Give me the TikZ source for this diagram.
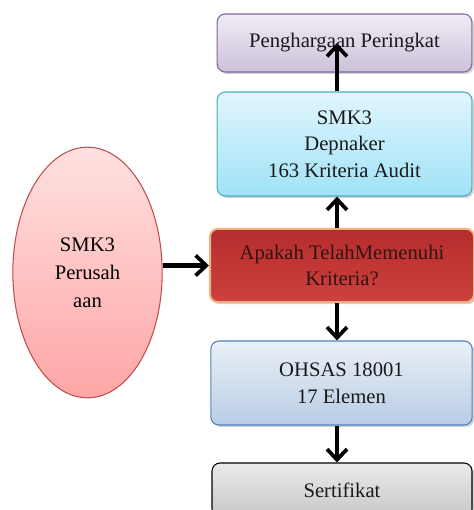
\documentclass[tikz,border=0pt]{standalone}
\usepackage{fontspec}
\setmainfont{Liberation Serif}
\usepackage{tikz}
\usetikzlibrary{arrows.meta,shapes.geometric,shadows,positioning}

\definecolor{ungu}{RGB}{128,100,162}
\definecolor{biru}{RGB}{75,172,198}
\definecolor{merah}{RGB}{192,80,77}
\definecolor{jingga}{RGB}{240,176,130}
\definecolor{birutua}{RGB}{79,129,189}
\definecolor{cyanmuda}{RGB}{225,246,253}
\definecolor{cyantua}{RGB}{160,226,247}
\definecolor{merahtua}{RGB}{180,45,45}
\definecolor{merahbawah}{RGB}{205,65,62}

\begin{document}
\begin{tikzpicture}[x=0.75pt,y=-0.75pt]
  \tikzset{
    >={Straight Barb[length=8pt,width=15pt,line width=2.8pt]},
    arr/.style={->, line width=3.2pt, black},
    kotak/.style={rectangle, rounded corners=6pt, thick, align=center,
          font=\fontsize{15.5}{20}\selectfont, text=black!90,
          drop shadow={opacity=0.35, shadow xshift=1.5pt, shadow yshift=-1.5pt}},
    elips/.style={ellipse, thick, align=center, inner sep=0pt,
          font=\fontsize{15.5}{21}\selectfont}
  }
  \useasboundingbox (0,0) rectangle (474,510);

  \node[kotak, draw=ungu, top color=ungu!12, bottom color=ungu!40,
        minimum width=191pt, minimum height=43.5pt] (peringkat) at (344.5,43)
        {Penghargaan Peringkat};
  \node[kotak, draw=biru, top color=cyanmuda, bottom color=cyantua,
        minimum width=191pt, minimum height=78pt] (depnaker) at (344.5,144)
        {SMK3\\Depnaker\\163 Kriteria Audit};
  \node[kotak, draw=jingga, line width=1.5pt, top color=merahtua,
        bottom color=merahbawah, text=black!75!merah,
        minimum width=198pt, minimum height=55pt] (kriteria) at (342,265.5)
        {Apakah TelahMemenuhi\\Kriteria?};
  \node[kotak, draw=birutua, top color=birutua!12, bottom color=birutua!40,
        minimum width=196pt, minimum height=63pt] (ohsas) at (341.5,383)
        {OHSAS 18001\\17 Elemen};
  \node[kotak, draw=black, top color=white!92!black, bottom color=black!22,
        minimum width=195pt, minimum height=40.5pt] (sertifikat) at (342,490)
        {Sertifikat};

  \node[elips, draw=merah, top color=red!12, bottom color=red!35,
        minimum width=112pt, minimum height=188pt] (perusahaan) at (87.5,272.5)
        {SMK3\\Perusah\\aan};

  \coordinate (spine) at (337,0);

  \draw[arr] (perusahaan.east |- kriteria.west) -- (kriteria.west);
  \draw[arr] (kriteria.north -| spine) -- (depnaker.south -| spine);
  \draw[arr] (depnaker.north -| spine) -- (peringkat.center -| spine);
  \draw[arr] (kriteria.south -| spine) -- (ohsas.north -| spine);
  \draw[arr] (ohsas.south -| spine) -- (sertifikat.north -| spine);
\end{tikzpicture}
\end{document}
